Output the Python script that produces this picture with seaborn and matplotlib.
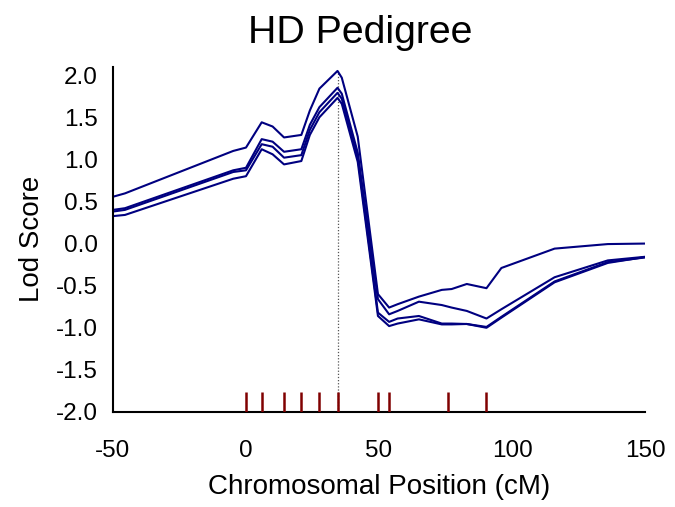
import matplotlib
matplotlib.use("Agg")
import matplotlib.pyplot as plt
import seaborn as sns
import numpy as np
import pandas as pd

# ---- data ----
positions = [-50, -45.5, -4.8, 0, 5.9, 10, 14.3, 20.8, 24, 27.6, 34.4, 36, 42,
             49.6, 53.8, 57, 65, 73.6, 77.3, 83, 90.4, 96, 116, 136, 150]
lod_a = [0.556, 0.596, 1.10, 1.14, 1.44, 1.39, 1.26, 1.29, 1.58, 1.84, 2.05, 1.97, 1.27,
         -0.60, -0.76, -0.72, -0.63, -0.55, -0.54, -0.48, -0.53, -0.29, -0.06, -0.006, 0.0]
lod_b = [0.40, 0.42, 0.87, 0.90, 1.24, 1.21, 1.09, 1.12, 1.41, 1.62, 1.85, 1.78, 1.08,
         -0.66, -0.84, -0.80, -0.69, -0.73, -0.76, -0.80, -0.89, -0.78, -0.40, -0.20, -0.157]
lod_c = [0.38, 0.40, 0.85, 0.87, 1.18, 1.15, 1.02, 1.05, 1.35, 1.56, 1.79, 1.72, 1.03,
         -0.82, -0.93, -0.89, -0.86, -0.95, -0.95, -0.955, -0.99, -0.87, -0.45, -0.22, -0.165]
lod_d = [0.326, 0.34, 0.77, 0.80, 1.12, 1.06, 0.94, 0.98, 1.29, 1.50, 1.73, 1.66, 0.97,
         -0.86, -0.98, -0.95, -0.90, -0.96, -0.96, -0.955, -1.0, -0.88, -0.46, -0.23, -0.16]
markers = [0, 5.9, 14.3, 20.8, 27.6, 34.4, 49.6, 53.8, 75.8, 90.4]
peak_pos = 34.4
peak_lod = 2.05
x_ticks = [-50, 0, 50, 100, 150]
y_ticks = [-2.0, -1.5, -1.0, -0.5, 0.0, 0.5, 1.0, 1.5, 2.0]

sns.set_style("white")
plt.rcParams['font.family'] = ['Liberation Sans', 'DejaVu Sans']
plt.rcParams['axes.unicode_minus'] = False
plt.rcParams['text.color'] = 'black'
plt.rcParams['axes.labelcolor'] = 'black'

fig = plt.figure(figsize=(6.75, 5.07), dpi=100)
ax = fig.add_axes([0.1674, 0.1874, 0.7882, 0.681])

frames = []
for name, vals in [("a", lod_a), ("b", lod_b), ("c", lod_c), ("d", lod_d)]:
    frames.append(pd.DataFrame({"pos": positions, "lod": vals, "series": name}))
df = pd.concat(frames, ignore_index=True)

sns.lineplot(data=df, x="pos", y="lod", units="series", estimator=None,
             color="#000080", linewidth=1.5, ax=ax, legend=False)

ax.vlines(markers, -2.0, -1.76, color="#800000", linewidth=1.8, zorder=3)
ax.vlines([peak_pos], -2.0, peak_lod, color="#555555", linewidth=0.9,
          linestyles=(0, (1, 1.5)), zorder=1)

ax.set_xlim(-50, 150)
ax.set_ylim(-2.0, 2.1)
ax.set_xticks(x_ticks)
ax.set_xticklabels([str(v) for v in x_ticks])
ax.set_yticks(y_ticks)
ax.set_yticklabels([f"{v:.1f}" for v in y_ticks])

for s in ["top", "right"]:
    ax.spines[s].set_visible(False)
for s in ["left", "bottom"]:
    ax.spines[s].set_color("black")
    ax.spines[s].set_linewidth(1.5)
ax.tick_params(axis="both", direction="out", length=6, width=1.5,
               color="black", labelsize=17.5, labelcolor="black")
ax.tick_params(axis="x", pad=14)
ax.tick_params(axis="y", pad=5)

ax.set_xlabel("Chromosomal Position (cM)", fontsize=20, color="black")
ax.set_ylabel("Lod Score", fontsize=20, color="black")
ax.xaxis.set_label_coords(0.5, -0.18)
ax.yaxis.set_label_coords(-0.127, 0.5)
fig.text(0.533, 0.915, "HD Pedigree", fontsize=28.3, color="black",
         ha="center", va="baseline")

fig.savefig("out.png", dpi=100)
